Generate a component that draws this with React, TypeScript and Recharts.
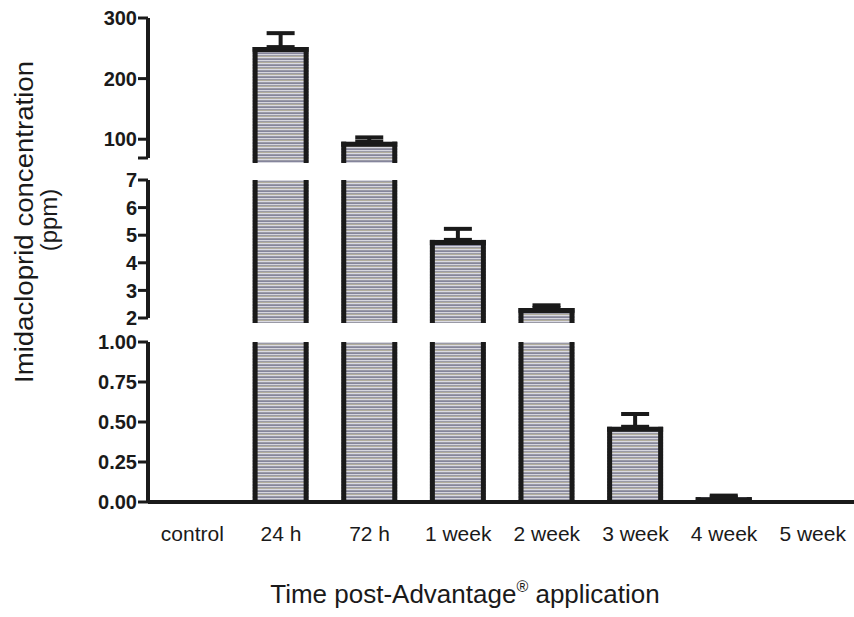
import { BarChart, Bar, XAxis, YAxis, ErrorBar } from 'recharts';

const categories = ['control', '24 h', '72 h', '1 week', '2 week', '3 week', '4 week', '5 week'];
const concentration = [0, 252, 96, 4.83, 2.36, 0.47, 0.03, 0];
const sem = [0, 23, 7, 0.4, 0.1, 0.08, 0.01, 0];

const topTicks = [69, 100, 200, 300];
const midTicks = [2, 3, 4, 5, 6, 7];
const lowTicks = [0, 0.25, 0.5, 0.75, 1];

const FONT = "'Liberation Sans', Arial, sans-serif";
const INK = '#1a1a1a';
const W = 860;
const H = 617;

// one panel of the broken axis: only the part of each bar that falls inside [lo, hi]
const panelData = (lo: number, hi: number) =>
  categories.map((name, i) => {
    const v = concentration[i];
    const shown = v > lo;
    const over = v > hi;
    return {
      name,
      v: shown ? Math.min(v, hi) : null,
      over,
      err: shown && !over && sem[i] > 0 ? [0, sem[i]] : null,
    };
  });

const StripedBar = (props: any) => {
  const { x, y, width, height, payload, ext, fillId } = props;
  if (payload.v == null || !(height > 0)) return null;
  const bottom = y + height + ext;
  return (
    <g>
      <rect x={x} y={y} width={width} height={bottom - y} fill={`url(#${fillId})`} />
      <line x1={x + 2.5} x2={x + 2.5} y1={y} y2={bottom} stroke={INK} strokeWidth={5} />
      <line x1={x + width - 2.5} x2={x + width - 2.5} y1={y} y2={bottom} stroke={INK} strokeWidth={5} />
      {!payload.over && <line x1={x} x2={x + width} y1={y + 2.5} y2={y + 2.5} stroke={INK} strokeWidth={5} />}
    </g>
  );
};

const Stripes = ({ id }: { id: string }) => (
  <defs>
    <pattern id={id} width={6} height={6} patternUnits="userSpaceOnUse">
      <rect width={6} height={6} fill="#9a9aa6" />
      <rect y={0} width={6} height={1} fill="#d6d6de" />
      <rect y={2} width={6} height={1} fill="#b3af9e" />
      <rect y={3} width={6} height={1} fill="#dadae4" />
      <rect y={5} width={6} height={1} fill="#85859c" />
    </pattern>
  </defs>
);

const yTick = { fill: INK, fontSize: 20, fontWeight: 'bold', fontFamily: FONT };

const Panel = ({ lo, hi, ticks, top, bottom, ext, id, showX, fmt }: any) => (
  <div style={{ position: 'absolute', left: 0, top: 0 }}>
    <BarChart
      width={W}
      height={H}
      data={panelData(lo, hi)}
      barSize={56}
      margin={{ top, bottom, left: 88, right: 3 }}
    >
      <Stripes id={id} />
      {showX ? (
        <XAxis
          dataKey="name"
          height={60}
          axisLine={{ stroke: INK, strokeWidth: 4 }}
          tickLine={false}
          tickSize={0}
          tickMargin={24}
          interval={0}
          tick={{ fill: INK, fontSize: 21, fontFamily: FONT }}
        />
      ) : (
        <XAxis dataKey="name" hide />
      )}
      <YAxis
        width={60}
        domain={[lo, hi]}
        ticks={ticks}
        interval={0}
        tickFormatter={fmt}
        axisLine={{ stroke: INK, strokeWidth: 4 }}
        tickLine={{ stroke: INK, strokeWidth: 3 }}
        tickSize={10}
        tickMargin={1}
        tick={yTick}
      />
      <Bar
        dataKey="v"
        isAnimationActive={false}
        shape={(p: any) => <StripedBar {...p} ext={ext} fillId={id} />}
      >
        <ErrorBar dataKey="err" width={14} stroke={INK} strokeWidth={4} />
      </Bar>
    </BarChart>
  </div>
);

export default function App() {
  return (
    <div
      style={{
        position: 'absolute',
        left: 0,
        top: 0,
        width: 854,
        height: 617,
        overflow: 'hidden',
        background: '#fff',
        fontFamily: FONT,
      }}
    >
      <Panel lo={69} hi={300} ticks={topTicks} top={18} bottom={H - 158} ext={5} id="stripeTop"
        fmt={(t: number) => (t === 69 ? '' : String(t))} />
      <Panel lo={2} hi={7} ticks={midTicks} top={180} bottom={H - 318} ext={5} id="stripeMid"
        fmt={(t: number) => String(t)} />
      <Panel lo={0} hi={1} ticks={lowTicks} top={342} bottom={H - 502 - 60} ext={0} id="stripeLow" showX
        fmt={(t: number) => t.toFixed(2)} />
      <svg width={854} height={617} style={{ position: 'absolute', left: 0, top: 0, pointerEvents: 'none' }}>
        <text x={24} y={222} transform="rotate(-90 24 222)" textAnchor="middle" dominantBaseline="central"
          fontSize={25} fontFamily={FONT} fill={INK} textLength={322} lengthAdjust="spacingAndGlyphs">
          Imidacloprid concentration
        </text>
        <text x={48} y={220} transform="rotate(-90 48 220)" textAnchor="middle" dominantBaseline="central"
          fontSize={24} fontFamily={FONT} fill={INK}>
          (ppm)
        </text>
        <text x={465} y={603} textAnchor="middle" fontSize={26} fontFamily={FONT} fill={INK}>
          Time post-Advantage<tspan fontSize={16} dy={-11}>®</tspan><tspan dy={11}> application</tspan>
        </text>
      </svg>
    </div>
  );
}
